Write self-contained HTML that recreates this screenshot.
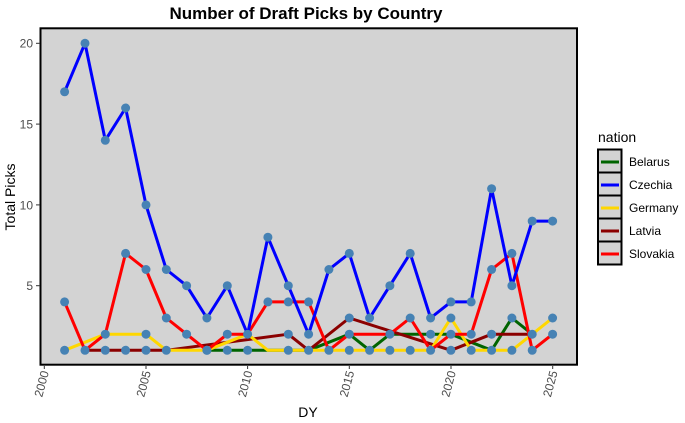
<!DOCTYPE html>
<html><head><style>body{margin:0;background:#fff}svg{display:block}text{font-family:"Liberation Sans",sans-serif}</style></head>
<body>
<svg width="685" height="423" xmlns="http://www.w3.org/2000/svg">
<text x="306" y="19" font-size="17" font-weight="bold" text-anchor="middle">Number of Draft Picks by Country</text>
<rect x="40.5" y="28.3" width="536.5" height="336.4" fill="#d3d3d3" stroke="#000" stroke-width="2"/>
<g font-size="12" fill="#4d4d4d" text-anchor="end">
<text x="33" y="290">5</text><text x="33" y="209.5">10</text><text x="33" y="128.5">15</text><text x="33" y="47.5">20</text>
</g>
<g stroke="#333" stroke-width="1"><line x1="36" x2="40" y1="285.7" y2="285.7"/><line x1="36" x2="40" y1="204.9" y2="204.9"/><line x1="36" x2="40" y1="124.1" y2="124.1"/><line x1="36" x2="40" y1="43.3" y2="43.3"/>
<line x1="44.3" x2="44.3" y1="366" y2="369"/><line x1="146" x2="146" y1="366" y2="369"/><line x1="247.6" x2="247.6" y1="366" y2="369"/><line x1="349.3" x2="349.3" y1="366" y2="369"/><line x1="451" x2="451" y1="366" y2="369"/><line x1="552.7" x2="552.7" y1="366" y2="369"/></g>
<g font-size="12" fill="#4d4d4d" text-anchor="end">
<text transform="translate(49,372) rotate(-75)">2000</text><text transform="translate(151,372) rotate(-75)">2005</text><text transform="translate(252.6,372) rotate(-75)">2010</text><text transform="translate(354.3,372) rotate(-75)">2015</text><text transform="translate(456,372) rotate(-75)">2020</text><text transform="translate(557.7,372) rotate(-75)">2025</text>
</g>
<text x="308" y="417" font-size="14" text-anchor="middle">DY</text>
<text transform="translate(15,197) rotate(-90)" font-size="14" text-anchor="middle">Total Picks</text>
<g fill="none" stroke-width="3" stroke-linejoin="round">
<polyline stroke="#006400" points="206.9,350.3 227.3,350.3 247.6,350.3 267.9,350.3 308.6,350.3 349.3,334.2 369.6,350.3 389.9,334.2 410.2,334.2 430.6,334.2 450.9,334.2 491.6,350.3 511.9,318 532.2,334.2"/>
<polyline stroke="#8b0000" points="85,350.3 105.3,350.3 125.6,350.3 146,350.3 166.3,350.3 288.3,334.2 308.6,350.3 349.3,318 450.9,350.3 491.6,334.2 511.9,334.2 532.2,334.2"/>
<polyline stroke="#ffd700" points="64.6,350.3 105.3,334.2 125.6,334.2 146,334.2 166.3,350.3 186.6,350.3 206.9,350.3 247.6,334.2 267.9,350.3 288.3,350.3 308.6,350.3 328.9,350.3 349.3,350.3 369.6,350.3 389.9,350.3 410.2,350.3 430.6,350.3 450.9,318 471.2,350.3 491.6,350.3 511.9,350.3 532.2,334.2 552.6,318"/>
<polyline stroke="#ff0000" points="64.6,301.9 85,350.3 105.3,334.2 125.6,253.4 146,269.5 166.3,318 186.6,334.2 206.9,350.3 227.3,334.2 247.6,334.2 267.9,301.9 288.3,301.9 308.6,301.9 328.9,350.3 349.3,334.2 369.6,334.2 389.9,334.2 410.2,318 430.6,350.3 450.9,334.2 471.2,334.2 491.6,269.5 511.9,253.4 532.2,350.3 552.6,334.2"/>
<polyline stroke="#0000ff" points="64.6,91.8 85,43.3 105.3,140.3 125.6,108 146,204.9 166.3,269.5 186.6,285.7 206.9,318 227.3,285.7 247.6,334.2 267.9,237.2 288.3,285.7 308.6,334.2 328.9,269.5 349.3,253.4 369.6,318 389.9,285.7 410.2,253.4 430.6,318 450.9,301.9 471.2,301.9 491.6,188.7 511.9,285.7 532.2,221.1 552.6,221.1"/>
</g>
<g fill="#4682b4">
<circle cx="64.6" cy="91.8" r="4.5"/><circle cx="85" cy="43.3" r="4.5"/><circle cx="105.3" cy="140.3" r="4.5"/><circle cx="125.6" cy="108" r="4.5"/><circle cx="146" cy="204.9" r="4.5"/><circle cx="166.3" cy="269.5" r="4.5"/><circle cx="186.6" cy="285.7" r="4.5"/><circle cx="206.9" cy="318" r="4.5"/><circle cx="227.3" cy="285.7" r="4.5"/><circle cx="247.6" cy="334.2" r="4.5"/><circle cx="267.9" cy="237.2" r="4.5"/><circle cx="288.3" cy="285.7" r="4.5"/><circle cx="308.6" cy="334.2" r="4.5"/><circle cx="328.9" cy="269.5" r="4.5"/><circle cx="349.3" cy="253.4" r="4.5"/><circle cx="369.6" cy="318" r="4.5"/><circle cx="389.9" cy="285.7" r="4.5"/><circle cx="410.2" cy="253.4" r="4.5"/><circle cx="430.6" cy="318" r="4.5"/><circle cx="450.9" cy="301.9" r="4.5"/><circle cx="471.2" cy="301.9" r="4.5"/><circle cx="491.6" cy="188.7" r="4.5"/><circle cx="511.9" cy="285.7" r="4.5"/><circle cx="532.2" cy="221.1" r="4.5"/><circle cx="552.6" cy="221.1" r="4.5"/>
<circle cx="64.6" cy="301.9" r="4.5"/><circle cx="85" cy="350.3" r="4.5"/><circle cx="105.3" cy="334.2" r="4.5"/><circle cx="125.6" cy="253.4" r="4.5"/><circle cx="146" cy="269.5" r="4.5"/><circle cx="166.3" cy="318" r="4.5"/><circle cx="186.6" cy="334.2" r="4.5"/><circle cx="206.9" cy="350.3" r="4.5"/><circle cx="227.3" cy="334.2" r="4.5"/><circle cx="267.9" cy="301.9" r="4.5"/><circle cx="288.3" cy="301.9" r="4.5"/><circle cx="308.6" cy="301.9" r="4.5"/><circle cx="328.9" cy="350.3" r="4.5"/><circle cx="349.3" cy="334.2" r="4.5"/><circle cx="389.9" cy="334.2" r="4.5"/><circle cx="410.2" cy="318" r="4.5"/><circle cx="430.6" cy="350.3" r="4.5"/><circle cx="450.9" cy="334.2" r="4.5"/><circle cx="471.2" cy="334.2" r="4.5"/><circle cx="491.6" cy="269.5" r="4.5"/><circle cx="511.9" cy="253.4" r="4.5"/><circle cx="532.2" cy="350.3" r="4.5"/><circle cx="552.6" cy="334.2" r="4.5"/>
<circle cx="64.6" cy="350.3" r="4.5"/><circle cx="105.3" cy="350.3" r="4.5"/><circle cx="125.6" cy="350.3" r="4.5"/><circle cx="146" cy="334.2" r="4.5"/><circle cx="146" cy="350.3" r="4.5"/><circle cx="166.3" cy="350.3" r="4.5"/><circle cx="206.9" cy="350.3" r="4.5"/><circle cx="227.3" cy="350.3" r="4.5"/><circle cx="247.6" cy="350.3" r="4.5"/><circle cx="288.3" cy="334.2" r="4.5"/><circle cx="288.3" cy="350.3" r="4.5"/><circle cx="308.6" cy="350.3" r="4.5"/><circle cx="349.3" cy="318" r="4.5"/><circle cx="349.3" cy="350.3" r="4.5"/><circle cx="369.6" cy="350.3" r="4.5"/><circle cx="389.9" cy="350.3" r="4.5"/><circle cx="410.2" cy="350.3" r="4.5"/><circle cx="430.6" cy="334.2" r="4.5"/><circle cx="450.9" cy="318" r="4.5"/><circle cx="450.9" cy="350.3" r="4.5"/><circle cx="471.2" cy="350.3" r="4.5"/><circle cx="491.6" cy="334.2" r="4.5"/><circle cx="491.6" cy="350.3" r="4.5"/><circle cx="511.9" cy="318" r="4.5"/><circle cx="511.9" cy="350.3" r="4.5"/><circle cx="532.2" cy="334.2" r="4.5"/><circle cx="552.6" cy="318" r="4.5"/>
</g>
<text x="598" y="142" font-size="14">nation</text>
<g stroke="#000" stroke-width="2" fill="#d3d3d3">
<rect x="598" y="149.5" width="23.5" height="23"/><rect x="598" y="172.5" width="23.5" height="23"/><rect x="598" y="195.5" width="23.5" height="23"/><rect x="598" y="218.5" width="23.5" height="23"/><rect x="598" y="241.5" width="23.5" height="23"/>
</g>
<g stroke-width="3"><line x1="601" x2="619" y1="162" y2="162" stroke="#006400"/><line x1="601" x2="619" y1="185" y2="185" stroke="#0000ff"/><line x1="601" x2="619" y1="208" y2="208" stroke="#ffd700"/><line x1="601" x2="619" y1="231" y2="231" stroke="#8b0000"/><line x1="601" x2="619" y1="254" y2="254" stroke="#ff0000"/></g>
<g font-size="12"><text x="629" y="166">Belarus</text><text x="629" y="189">Czechia</text><text x="629" y="212">Germany</text><text x="629" y="235">Latvia</text><text x="629" y="258">Slovakia</text></g>
</svg>
</body></html>
